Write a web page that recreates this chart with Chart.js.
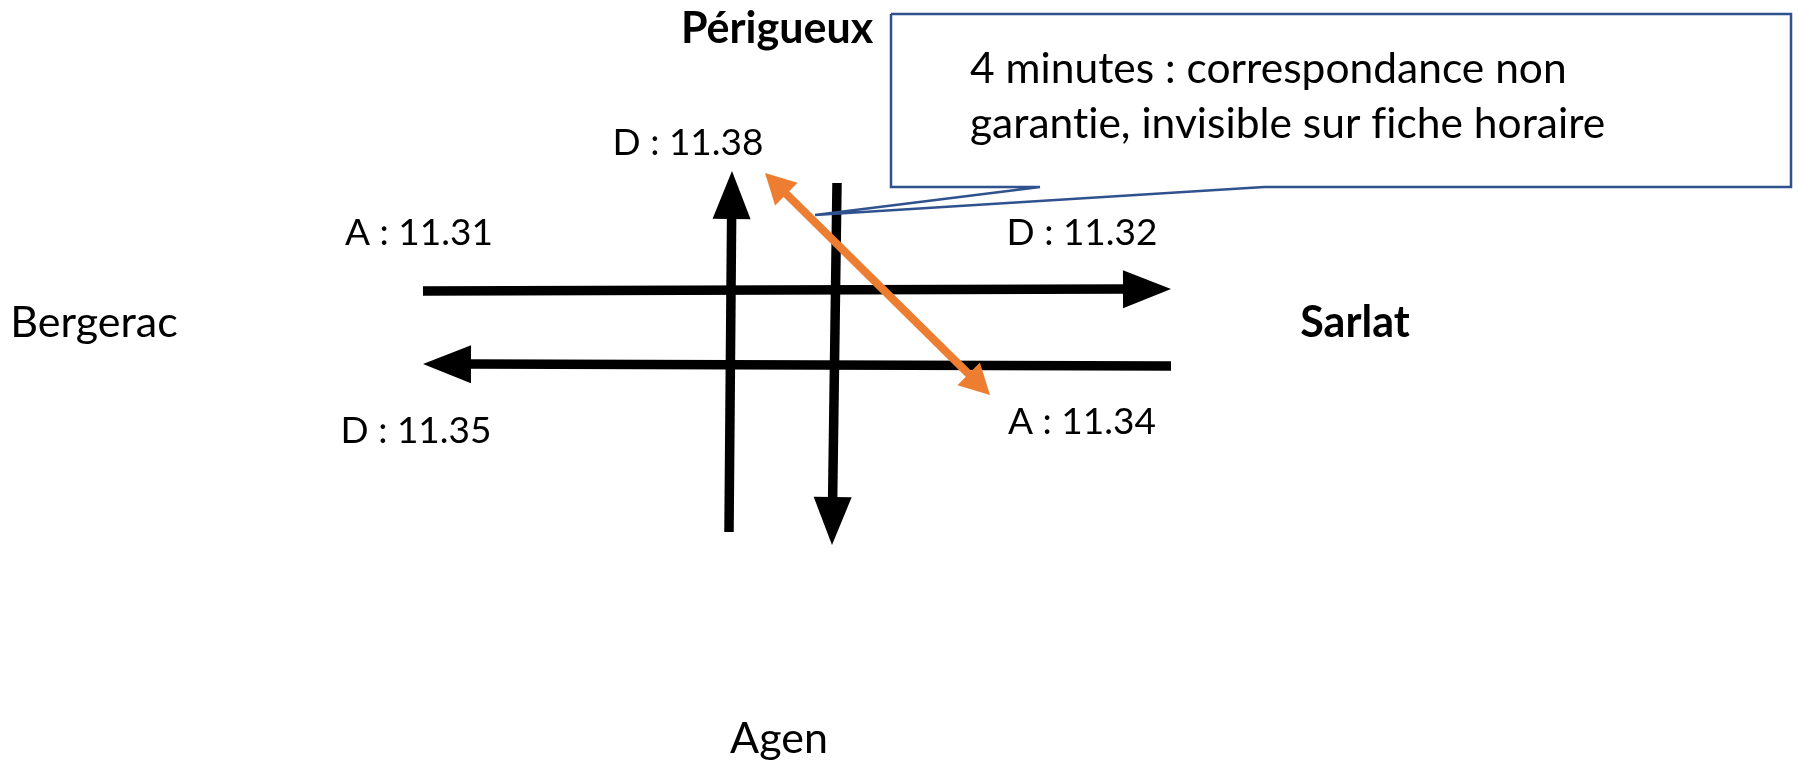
<!DOCTYPE html>
<html>
<head>
<meta charset="utf-8">
<script src="https://cdn.jsdelivr.net/npm/chart.js@4/dist/chart.umd.min.js"></script>
<style>
  html, body { margin: 0; padding: 0; background: #fff; }
  canvas { display: block; }
</style>
</head>
<body>
<canvas id="schema" width="1799" height="762"></canvas>
<script>
// places and times shown on the diagram
const placeNames = ['Périgueux', 'Bergerac', 'Sarlat', 'Agen'];
const placeX = [777, 94, 1355, 779];
const placeY = [43, 337, 337, 753];
const placeBold = [true, false, true, false];

const timeLabels = ['D : 11.38', 'A : 11.31', 'D : 11.32', 'D : 11.35', 'A : 11.34'];
const timeX = [688, 419, 1082, 416, 1082];
const timeY = [155, 245, 245, 443, 434];

const noteLines = ['4 minutes : correspondance non', 'garantie, invisible sur fiche horaire'];
const noteX = [970, 970];
const noteY = [83, 138];

// train routes (start -> arrow end)
const routeNames = ['Bergerac - Sarlat', 'Sarlat - Bergerac', 'Agen - Périgueux', 'Périgueux - Agen'];
const routeX = [[423, 1171], [1171, 423], [729, 732], [837, 832]];
const routeY = [[291, 289], [366, 364], [532, 171], [183, 545]];

// the 4 minute connection (double arrow)
const connX = [765, 990];
const connY = [173, 395];

// callout outline
const calloutX = [891, 1791, 1791, 1264, 815, 1040, 891, 891];
const calloutY = [14, 14, 187, 187, 215, 187, 187, 14];

const pts = (xs, ys) => xs.map((x, i) => ({x: x, y: ys[i]}));

const tips = {};

const arrowHeads = {
  id: 'arrowHeads',
  afterDatasetsUpdate(chart) {
    chart.data.datasets.forEach((ds, i) => {
      if (!ds.arrow) return;
      const els = chart.getDatasetMeta(i).data;
      const ends = [];
      if (ds.arrow.end) ends.push([els.length - 1, els.length - 2]);
      if (ds.arrow.start) ends.push([0, 1]);
      const found = ends.map(([a, b]) => {
        const p = els[a], q = els[b];
        const dx = p.x - q.x, dy = p.y - q.y, d = Math.hypot(dx, dy);
        return {el: p, x: p.x, y: p.y, ux: dx / d, uy: dy / d};
      });
      // pull the line ends back so the shaft stops under the head
      found.forEach(t => {
        t.el.x = t.x - t.ux * (ds.arrow.len - 2);
        t.el.y = t.y - t.uy * (ds.arrow.len - 2);
      });
      tips[i] = found;
    });
  },
  afterDatasetDraw(chart, args) {
    const ds = chart.data.datasets[args.index];
    if (!ds.arrow || !tips[args.index]) return;
    const ctx = chart.ctx;
    ctx.save();
    ctx.fillStyle = ds.borderColor;
    tips[args.index].forEach(t => {
      const bx = t.x - t.ux * ds.arrow.len, by = t.y - t.uy * ds.arrow.len;
      const nx = -t.uy * ds.arrow.half, ny = t.ux * ds.arrow.half;
      ctx.beginPath();
      ctx.moveTo(t.x, t.y);
      ctx.lineTo(bx + nx, by + ny);
      ctx.lineTo(bx - nx, by - ny);
      ctx.closePath();
      ctx.fill();
    });
    ctx.restore();
  }
};

const texts = {
  id: 'texts',
  afterDraw(chart) {
    const ctx = chart.ctx, xs = chart.scales.x, ys = chart.scales.y;
    ctx.save();
    ctx.fillStyle = '#000';
    ctx.textBaseline = 'alphabetic';
    ctx.textAlign = 'center';
    ctx.letterSpacing = '0.01px'; // no "ti" ligature
    placeNames.forEach((t, i) => {
      ctx.font = (placeBold[i] ? 'bold ' : '') + '43px Lato';
      ctx.fillText(t, xs.getPixelForValue(placeX[i]), ys.getPixelForValue(placeY[i]));
    });
    ctx.font = '37px Lato';
    timeLabels.forEach((t, i) => {
      ctx.fillText(t, xs.getPixelForValue(timeX[i]), ys.getPixelForValue(timeY[i]));
    });
    ctx.font = '42.5px Lato';
    ctx.textAlign = 'left';
    noteLines.forEach((t, i) => {
      ctx.fillText(t, xs.getPixelForValue(noteX[i]), ys.getPixelForValue(noteY[i]));
    });
    ctx.restore();
  }
};

const lineStyle = {
  showLine: true,
  pointRadius: 0,
  pointHoverRadius: 0,
  tension: 0,
  fill: false,
  borderCapStyle: 'butt',
  borderJoinStyle: 'miter'
};

const datasets = [
  Object.assign({}, lineStyle, {
    label: 'note',
    data: pts(calloutX, calloutY),
    borderColor: '#2F528F',
    borderWidth: 2.5
  }),
  Object.assign({}, lineStyle, {
    label: 'correspondance',
    data: pts(connX, connY),
    borderColor: '#ED7D31',
    borderWidth: 8,
    arrow: {start: true, end: true, len: 30, half: 16}
  })
];
routeNames.forEach((name, i) => {
  datasets.push(Object.assign({}, lineStyle, {
    label: name,
    data: pts(routeX[i], routeY[i]),
    borderColor: '#000',
    borderWidth: 9.5,
    arrow: {end: true, len: 48, half: 19}
  }));
});

new Chart('schema', {
  type: 'scatter',
  data: {datasets: datasets},
  options: {
    responsive: false,
    animation: false,
    devicePixelRatio: 1,
    events: [],
    layout: {padding: 0},
    scales: {
      x: {type: 'linear', min: 0, max: 1799, display: false},
      y: {type: 'linear', min: 0, max: 762, reverse: true, display: false}
    },
    plugins: {
      legend: {display: false},
      tooltip: {enabled: false}
    }
  },
  plugins: [arrowHeads, texts]
});
</script>
</body>
</html>
